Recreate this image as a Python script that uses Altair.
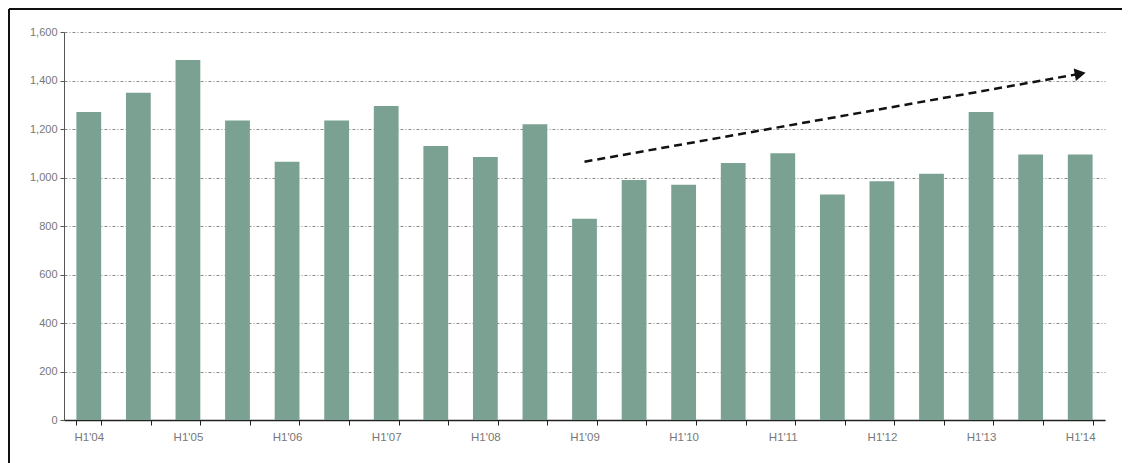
import altair as alt
import pandas as pd

periods = ["H1'04", "H2'04", "H1'05", "H2'05", "H1'06", "H2'06", "H1'07", "H2'07",
           "H1'08", "H2'08", "H1'09", "H2'09", "H1'10", "H2'10", "H1'11", "H2'11",
           "H1'12", "H2'12", "H1'13", "H2'13", "H1'14"]
values = [1270, 1350, 1485, 1235, 1065, 1235, 1295, 1130, 1085, 1220, 830, 990,
          970, 1060, 1100, 930, 985, 1015, 1270, 1095, 1095]

trend_periods = ["H1'09", "H1'14"]
trend_values = [1065, 1428]

df = pd.DataFrame({"period": periods, "value": values})
trend = pd.DataFrame({"period": trend_periods, "value": trend_values})
tip = trend.tail(1)

xscale = alt.Scale(domain=periods, paddingInner=0.5, paddingOuter=0.25)
yscale = alt.Scale(domain=[0, 1600])

xenc = alt.X("period:N", scale=xscale, sort=periods, title=None,
             axis=alt.Axis(labelExpr="indexof(datum.label, 'H2') == 0 ? '' : datum.label",
                           labelAngle=0, tickBand="extent", domainColor="#222",
                           domainWidth=1.5, tickColor="#222", tickSize=5,
                           labelColor="#777", labelFont="Liberation Sans",
                           labelFontSize=11.5, labelPadding=6))
yenc = alt.Y("value:Q", scale=yscale, title=None,
             axis=alt.Axis(values=list(range(0, 1601, 200)), format=",d",
                           grid=True, gridColor="#888", gridDash=[3, 2, 1, 2],
                           gridWidth=1, domainColor="#555", tickColor="#555",
                           tickSize=4, labelColor="#777", labelFont="Liberation Sans",
                           labelFontSize=11, labelPadding=3))

bars = alt.Chart(df).mark_bar(color="#7ba192").encode(x=xenc, y=yenc)

line = alt.Chart(trend).mark_line(color="#111", strokeWidth=2.5,
                                  strokeDash=[8, 5]).encode(
    x=alt.X("period:N", scale=xscale, sort=periods),
    y=alt.Y("value:Q", scale=yscale))

head = alt.Chart(tip).mark_point(shape="triangle-right", filled=True, color="#111",
                                 size=160, angle=350, opacity=1).encode(
    x=alt.X("period:N", scale=xscale, sort=periods),
    y=alt.Y("value:Q", scale=yscale))

frame_left = alt.Chart(df).mark_rule(color="#111", strokeWidth=1.5).encode(
    x=alt.value(-55), y=alt.value(-23), y2=alt.value(460))
frame_top = alt.Chart(df).mark_rule(color="#111", strokeWidth=1.5).encode(
    x=alt.value(-55), x2=alt.value(1060), y=alt.value(-23))

chart = alt.layer(bars, line, head, frame_left, frame_top).properties(
    width=1041, height=388, padding={"left": 56, "top": 24, "right": 17, "bottom": 45},
    autosize=alt.AutoSizeParams(type="none"), background="white"
).configure_view(stroke=None)

chart.save("out.html", embed_options={"renderer": "svg", "actions": False})
